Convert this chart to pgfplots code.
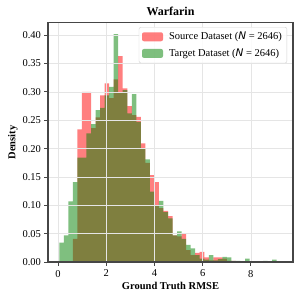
\documentclass[border=0pt]{standalone}
\usepackage{pgfplots}
\pgfplotsset{compat=1.18}
\usepackage{fontspec}
\setmainfont{Liberation Serif}
\newfontfamily\dvs{DejaVu Sans}
\definecolor{mgreen}{RGB}{0,128,0}
\definecolor{spine}{RGB}{70,70,70}
\begin{document}
\begin{tikzpicture}
\begin{axis}[
  scale only axis,
  width=245pt, height=239.3pt,
  xmin=-0.42, xmax=9.75, ymin=0, ymax=0.422,
  xtick={0,2,4,6,8},
  ytick={0,0.05,0.10,0.15,0.20,0.25,0.30,0.35,0.40},
  yticklabel style={/pgf/number format/.cd,fixed,fixed zerofill,precision=2},
  /pgf/number format/assume math mode=true,
  ticklabel style={font=\fontsize{10.5}{12}\selectfont},
  xticklabel style={yshift=-1pt},
  tick align=outside, tick pos=left,
  major tick length=3.5pt,
  every tick/.style={spine, line width=0.8pt},
  axis line style={spine, line width=1.1pt},
  grid=major,
  grid style={gray!20, line width=0.5pt},
  axis on top,
  title={\bfseries Warfarin},
  title style={font=\fontsize{12}{14}\selectfont, yshift=-3pt},
  xlabel={\bfseries Ground Truth RMSE},
  ylabel={\bfseries Density},
  label style={font=\fontsize{10.5}{12}\selectfont},
  xlabel style={yshift=2pt},
  ylabel style={yshift=-2pt},
  legend style={at={(0.976,0.982)}, anchor=north east, draw=gray!35, rounded corners=2pt,
    fill=white, fill opacity=0.85, text opacity=1,
    font=\fontsize{10.5}{12}\selectfont, inner xsep=3pt, inner ysep=3pt, row sep=3.5pt},
  legend cell align=left,
  legend image code/.code={\fill[#1] (0pt,-4.5pt) rectangle (21pt,4.5pt); \path (25pt,0pt);},
]
\addplot[ybar interval, fill=red, fill opacity=0.5, draw=none] table[row sep=\\] {
x y\\
0.050 0\\ 0.238 0\\ 0.426 0\\ 0.614 0.041\\ 0.802 0.234\\ 0.990 0.300\\ 1.178 0.300\\ 1.366 0.236\\ 1.554 0.255\\ 1.742 0.294\\
1.930 0.315\\ 2.118 0.289\\ 2.306 0.322\\ 2.494 0.363\\ 2.682 0.306\\ 2.870 0.275\\ 3.058 0.259\\ 3.246 0.256\\ 3.434 0.209\\ 3.622 0.175\\
3.810 0.153\\ 3.998 0.141\\ 4.186 0.095\\ 4.374 0.090\\ 4.562 0.081\\ 4.750 0.047\\ 4.938 0.045\\ 5.126 0.049\\ 5.314 0.021\\ 5.502 0.012\\
5.690 0.016\\ 5.878 0.018\\ 6.066 0.008\\ 6.254 0.003\\ 6.442 0.008\\ 6.630 0.008\\ 6.818 0.006\\ 7.006 0.002\\ 7.194 0.002\\ 7.382 0\\
7.570 0.001\\ 7.758 0\\ 7.946 0\\ 8.134 0\\ 8.322 0\\ 8.510 0\\ 8.698 0\\ 8.886 0\\ 9.074 0\\ 9.262 0\\ 9.450 0\\
};
\addlegendentry{Source Dataset ({\dvs\itshape N} = 2646)}
\addplot[ybar interval, fill=mgreen, fill opacity=0.5, draw=none] table[row sep=\\] {
x y\\
0.050 0.034\\ 0.238 0.047\\ 0.426 0.107\\ 0.614 0.141\\ 0.802 0.184\\ 0.990 0.184\\ 1.178 0.227\\ 1.366 0.243\\ 1.554 0.268\\ 1.742 0.272\\
1.930 0.294\\ 2.118 0.309\\ 2.306 0.402\\ 2.494 0.298\\ 2.682 0.303\\ 2.870 0.262\\ 3.058 0.296\\ 3.246 0.247\\ 3.434 0.200\\ 3.622 0.181\\
3.810 0.124\\ 3.998 0.100\\ 4.186 0.108\\ 4.374 0.088\\ 4.562 0.077\\ 4.750 0.047\\ 4.938 0.054\\ 5.126 0.041\\ 5.314 0.030\\ 5.502 0.024\\
5.690 0.012\\ 5.878 0.006\\ 6.066 0.004\\ 6.254 0.012\\ 6.442 0.003\\ 6.630 0.005\\ 6.818 0.009\\ 7.006 0.008\\ 7.194 0.002\\ 7.382 0.002\\
7.570 0.001\\ 7.758 0.006\\ 7.946 0\\ 8.134 0.001\\ 8.322 0\\ 8.510 0.002\\ 8.698 0.001\\ 8.886 0.004\\ 9.074 0.001\\ 9.262 0\\ 9.450 0\\
};
\addlegendentry{Target Dataset ({\dvs\itshape N} = 2646)}
\end{axis}
\pgfresetboundingbox
\path (current axis.south west) ++(-48pt,-39pt) rectangle ++(302pt,301pt);
\end{tikzpicture}
\end{document}
